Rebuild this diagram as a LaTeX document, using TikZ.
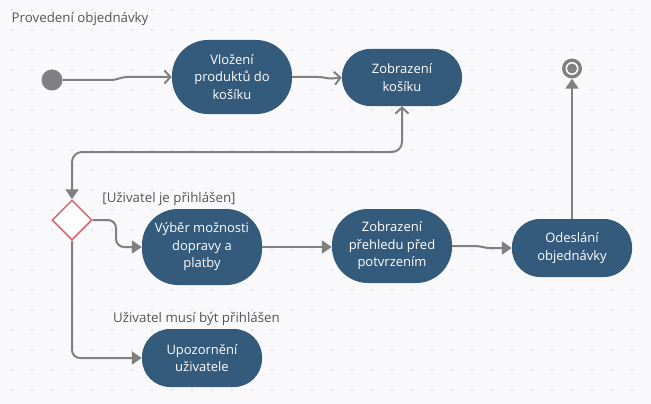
\documentclass[tikz,border=0pt]{standalone}
\usepackage{fontspec}
\setmainfont{Open Sans}
\usetikzlibrary{arrows.meta,shapes.geometric,calc}
\definecolor{bgc}{HTML}{F9F9FB}
\definecolor{dotc}{HTML}{DCDCE2}
\definecolor{nodec}{HTML}{345A7C}
\definecolor{linec}{HTML}{808080}
\definecolor{decc}{HTML}{D9646E}
\definecolor{labc}{HTML}{555555}
\tikzset{
  act/.style={rectangle, fill=nodec, text=white, align=center, minimum width=120pt,
    inner sep=0pt, font=\fontsize{13}{17.5}\selectfont},
  conn/.style={draw=linec, line width=2pt},
  filltip/.style={-{Triangle[length=10pt,width=13pt]}},
  opentip/.style={-{Straight Barb[length=6pt,width=13pt]}},
  lab/.style={text=labc, font=\fontsize{13.3}{16}\selectfont, inner sep=0pt}
}
\begin{document}
\begin{tikzpicture}[x=1pt,y=-1pt]
\fill[bgc] (0,0) rectangle (651,404);
\useasboundingbox (0,0) rectangle (651,404);
\foreach \i in {0,...,32}{
  \foreach \j in {0,...,19}{
    \fill[dotc] (12+20*\i,10+20*\j) circle (1.2);
  }
}
% title
\node[lab, anchor=west] (title) at (11.5,19) {Provedení objednávky};
% start
\node[circle, fill=linec, minimum size=21pt, inner sep=0pt] (start) at (52,80) {};
% activities
\node[act, minimum height=74pt, rounded corners=36pt] (vlo) at (232,77) {Vložení\\produktů do\\košíku};
\node[act, minimum height=57pt, rounded corners=28pt] (zob) at (402,77.5) {Zobrazení\\košíku};
\node[act, minimum height=76pt, rounded corners=36pt] (vyb) at (202,247) {Výběr možnosti\\dopravy a\\platby};
\node[act, minimum height=74pt, rounded corners=36pt] (pre) at (392,246) {Zobrazení\\přehledu před\\potvrzením};
\node[act, minimum height=58pt, rounded corners=28pt] (ode) at (572,248) {Odeslání\\objednávky};
\node[act, minimum height=58pt, rounded corners=28pt] (upo) at (202,358) {Upozornění\\uživatele};
% decision
\node[diamond, aspect=1, draw=decc, fill=white, line width=1.5pt, minimum width=40pt, minimum height=40pt, inner sep=0pt] (dec) at (72,220) {};
% final
\node[circle, fill=linec, minimum size=20pt, inner sep=0pt] (fin) at (572,68.5) {};
\fill[white] (fin.center) circle (6.5);
\fill[linec] (fin.center) circle (5);
% labels
\node[lab] (g1) at (169,199) {[Uživatel je přihlášen]};
\node[lab] (g2) at (196.5,319) {Uživatel musí být přihlášen};
% connectors
\coordinate (hl) at (0,152);
\coordinate (k1) at (116,0);
\draw[conn, opentip] (start.east) -- (110,80) .. controls (118,80) and (120,77) .. (128,77) -- (vlo.west);
\draw[conn, opentip] (vlo.east) -- (318,77) .. controls (324,77) and (326,78.5) .. (332,78.5) -- (zob.west);
\draw[conn, {Straight Barb[length=6pt,width=13pt]}-{Triangle[length=10pt,width=13pt]}, rounded corners=10pt]
  (zob.south) -- (zob.south |- hl) -- (dec.north |- hl) -- (dec.north);
\draw[conn, filltip, rounded corners=8pt] (dec.east) -- (dec.east -| k1) -- (vyb.west -| k1) -- (vyb.west);
\draw[conn, filltip, rounded corners=8pt] (dec.south) |- (upo.west);
\draw[conn, filltip] (vyb.east) -- (pre.west |- vyb.east);
\draw[conn, filltip] (pre.east) -- (475,246) .. controls (481,246) and (484,248) .. (490,248) -- (ode.west);
\draw[conn, filltip] (ode.north) -- (fin.south);
\end{tikzpicture}
\end{document}
